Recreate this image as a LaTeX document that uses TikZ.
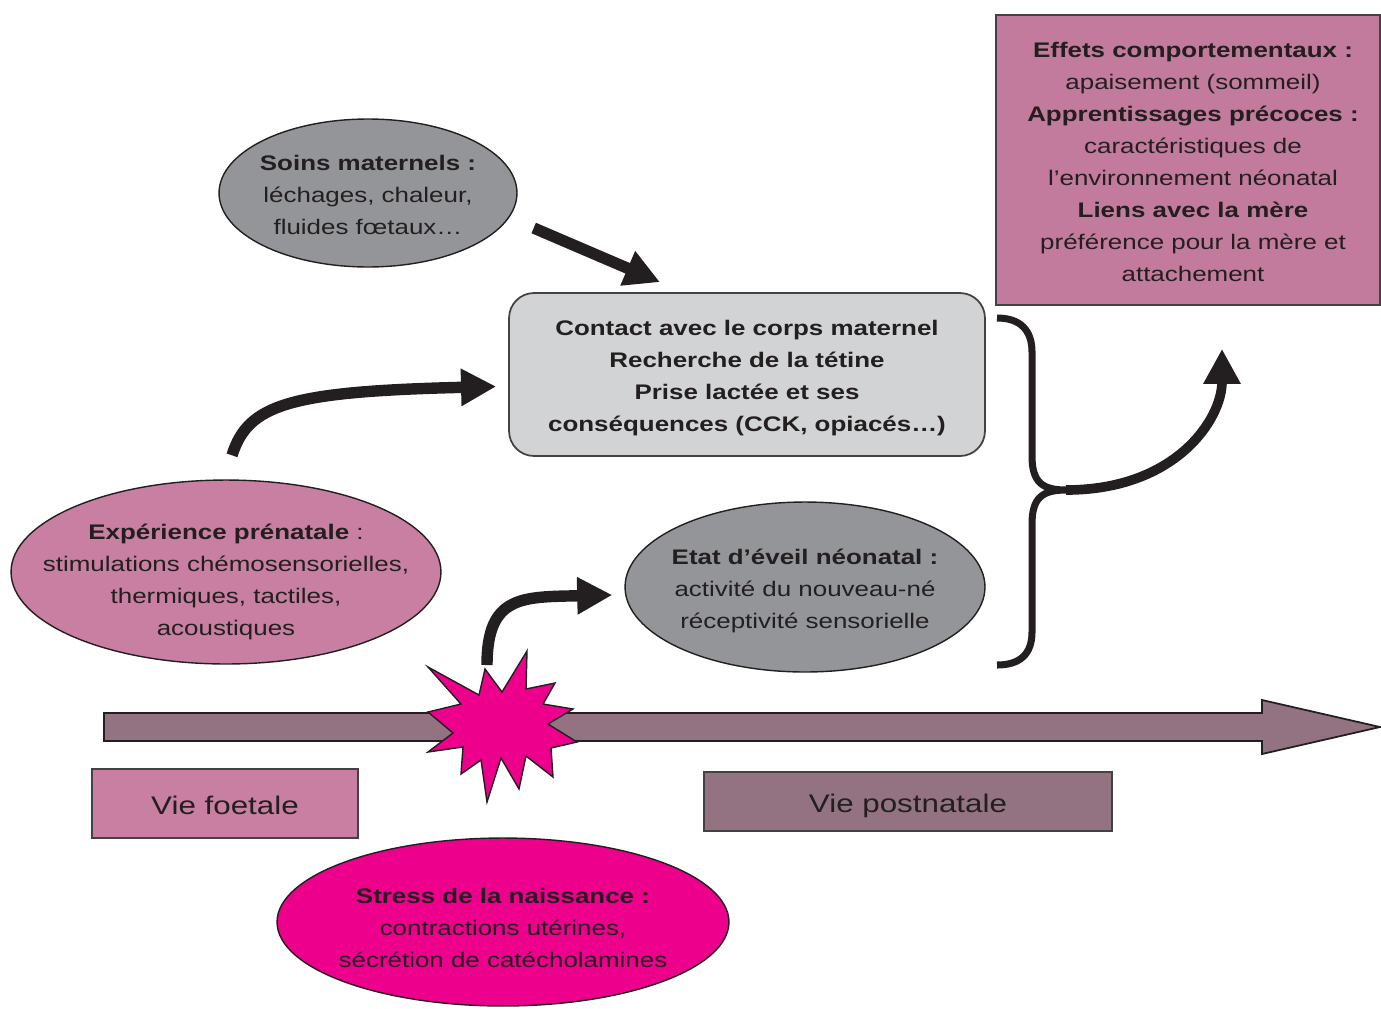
\documentclass[tikz,border=0pt]{standalone}
\usepackage{fontspec}
\setmainfont{Liberation Sans}[FakeStretch=1.23]
\usetikzlibrary{shapes.geometric,arrows.meta,calc}
\definecolor{rose}{HTML}{C87FA2}
\definecolor{mauve}{HTML}{C27B9C}
\definecolor{prune}{HTML}{937382}
\definecolor{gris}{HTML}{939598}
\definecolor{grisclair}{HTML}{D1D3D4}
\definecolor{fuchsia}{HTML}{EC008C}
\definecolor{encre}{HTML}{231F20}

\begin{document}
\begin{tikzpicture}[x=0.02cm,y=-0.02cm,font=\fontsize{12}{18.2}\selectfont,text=encre]
    \tikzstyle{oval}=[ellipse,draw=encre,line width=0.8pt,inner sep=0pt]
    \tikzstyle{box}=[rectangle,draw=encre!85,line width=1pt,inner sep=0pt]
    \tikzstyle{txt}=[align=center,inner sep=0pt]
    \tikzstyle{fat arrow}=[line width=6.5pt,draw=encre,-{Triangle[length=20pt,width=20pt]}]
    \useasboundingbox (0,0) rectangle (1381,1008);

        % frise du temps
        \draw[fill=prune,draw=encre,line width=1pt] (104,713) -- (1262,713) -- (1262,700) -- (1380,727)
            -- (1262,754) -- (1262,741) -- (104,741) -- cycle;
        \coordinate (naissance) at (502,727);
        \draw[fill=fuchsia,draw=encre,line width=0.8pt] plot coordinates {(428,667) (479,695) (485,669) (502,692)
            (527,651) (526,689) (555,683) (543,704) (573,709) (548,724) (577,742) (551,748) (553,777) (526,756)
            (519,789) (501,758) (487,802) (481,760) (461,774) (463,747) (428,752) (453,733) (428,712) (461,704)} -- cycle;

        % formes
        \node[oval,fill=gris,minimum width=5.96cm,minimum height=2.96cm] (soins) at (368,193) {};
        \node[box,rounded corners=0.5cm,fill=grisclair,minimum width=9.52cm,minimum height=3.26cm] (contact) at (747,374.5) {};
        \node[oval,fill=rose,minimum width=8.6cm,minimum height=3.68cm] (experience) at (226,572) {};
        \node[oval,fill=gris,minimum width=7.2cm,minimum height=3.4cm] (etat) at (805,587) {};
        \node[oval,fill=fuchsia,minimum width=9.04cm,minimum height=3.36cm] (stress) at (503,922) {};
        \node[box,fill=mauve,minimum width=7.68cm,minimum height=5.8cm] (effets) at (1188,160) {};
        \node[box,fill=rose,minimum width=5.32cm,minimum height=1.38cm] (foetale) at (225,803.5) {};
        \node[box,fill=prune,minimum width=8.16cm,minimum height=1.18cm] (postnatale) at (908,801.5) {};

        % textes
        \node[txt] (soins-t) at (368,194.5) {\textbf{Soins maternels :}\\léchages, chaleur,\\fluides fœtaux…};
        \node[txt] (contact-t) at (747,378.5)
            {\textbf{Contact avec le corps maternel}\\\textbf{Recherche de la tétine}\\\textbf{Prise lactée et ses}\\\textbf{conséquences (CCK, opiacés…)}};
        \node[txt] (experience-t) at (226,581.5)
            {\textbf{Expérience prénatale} :\\stimulations chémosensorielles,\\thermiques, tactiles,\\acoustiques};
        \node[txt] (etat-t) at (805,590.5) {\textbf{Etat d’éveil néonatal :}\\activité du nouveau-né\\réceptivité sensorielle};
        \node[txt] (stress-t) at (503,927.5) {\textbf{Stress de la naissance :}\\contractions utérines,\\sécrétion de catécholamines};
        \node[txt] (effets-t) at (1193,162)
            {\textbf{Effets comportementaux :}\\apaisement (sommeil)\\\textbf{Apprentissages précoces :}\\caractéristiques de\\l’environnement néonatal\\\textbf{Liens avec la mère}\\préférence pour la mère et\\attachement};
        \node[txt,font=\fontsize{14.5}{17}\selectfont] (foetale-t) at (225,805.5) {Vie foetale};
        \node[txt,font=\fontsize{14.5}{17}\selectfont] (postnatale-t) at (908,805.5) {Vie postnatale};

        \draw[fat arrow] ($(soins.east)+(16,35)$) -- ($(contact.north)+(-87,-10)$);
        \draw[fat arrow] ($(experience.north)+(6,-24)$) .. controls +(16,-51) and +(-207,5) .. ($(contact.west)+(-12,12)$);
        \draw[fat arrow] ($(naissance)+(-15,-62)$) .. controls +(0,-70) and +(-90,2) .. ($(etat.west)+(-12,8)$);

        % accolade
        \coordinate (accolade) at (1066,490);
        \draw[line width=4pt,draw=encre] (997,318) .. controls (1020,318) and (1032,330) .. (1032,352) -- (1032,456)
            .. controls (1032,482) and (1042,490) .. (accolade) .. controls (1042,490) and (1032,498) .. (1032,524)
            -- (1032,632) .. controls (1032,654) and (1020,665) .. (997,665);
        \draw[fat arrow,line width=5.5pt] (accolade) .. controls +(110,0) and +(0,70) .. ($(effets.south)+(34,43)$);
\end{tikzpicture}
\end{document}
